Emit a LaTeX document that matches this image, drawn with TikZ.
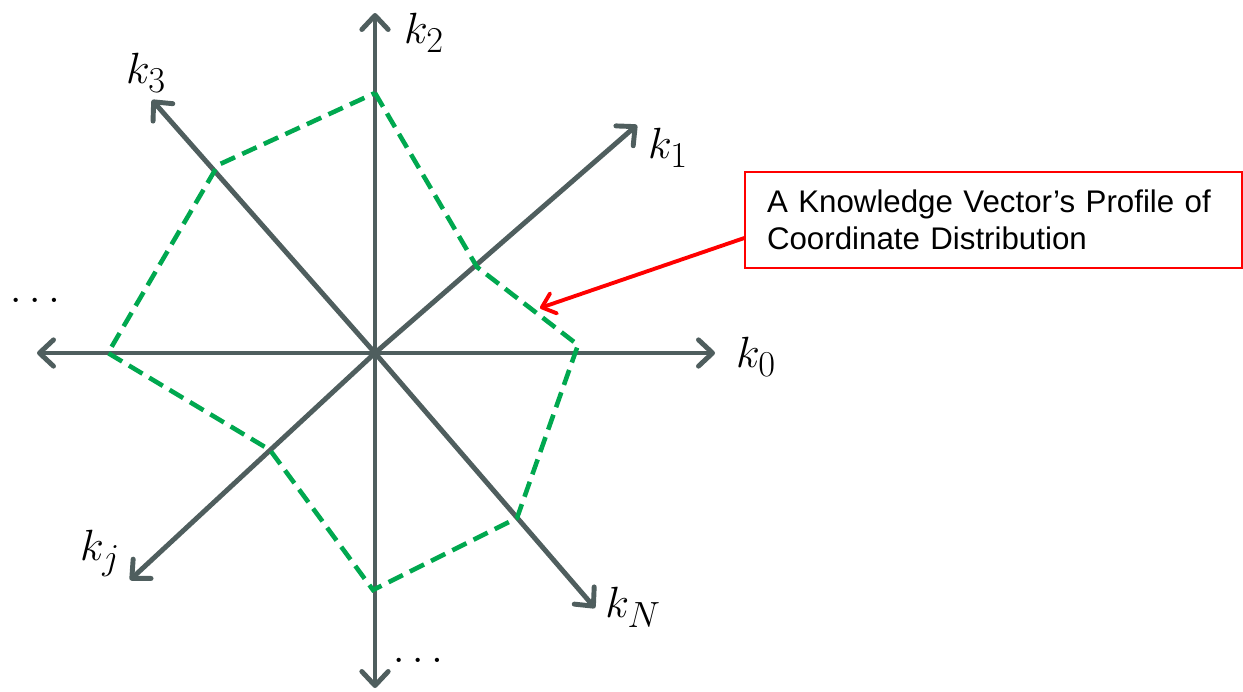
\documentclass[tikz,border=0pt]{standalone}
\usepackage{fontspec}
\setsansfont{Liberation Sans}
\usetikzlibrary{arrows.meta}
\definecolor{axisgray}{HTML}{4F5E5E}
\definecolor{profgreen}{HTML}{00A84F}
\definecolor{callred}{HTML}{FF0000}
\begin{document}
\begin{tikzpicture}[x=0.02cm,y=-0.02cm,
  axis/.style={draw=axisgray,line width=2.8pt,-{Straight Barb[length=8pt,width=15pt,line cap=round,line join=round]}},
  prof/.style={draw=profgreen,line width=2.6pt,dash pattern=on 9pt off 4.5pt},
  lab/.style={inner sep=0pt,font=\fontsize{28}{32}\selectfont},
  callout/.style={draw=callred,line width=0.8pt,fill=white,align=left,font=\sffamily\fontsize{17.8}{21}\selectfont,inner xsep=0pt,inner ysep=6pt,minimum width=497*0.02cm,minimum height=96*0.02cm,text width=453*0.02cm},
  callarrow/.style={draw=callred,line width=2.2pt,-{Straight Barb[length=7pt,width=12pt,line cap=round,line join=round]}}]
\useasboundingbox (0,0) rectangle (1243,691);
\coordinate (O) at (375,353);
\coordinate (e0) at (715,353);
\coordinate (e2) at (375,13);
\coordinate (eL) at (37,353);
\coordinate (eD) at (375,688);
\coordinate (e1) at (637,125);
\coordinate (e3) at (152,100);
\coordinate (ej) at (130,580);
\coordinate (eN) at (595,608);
\draw[axis] (O) -- (e0);
\draw[axis] (O) -- (e2);
\draw[axis] (O) -- (eL);
\draw[axis] (O) -- (eD);
\draw[axis] (O) -- (e1);
\draw[axis] (O) -- (e3);
\draw[axis] (O) -- (ej);
\draw[axis] (O) -- (eN);
\coordinate (p2) at (375,93);
\coordinate (p1) at (477,267);
\coordinate (p0) at (578,345);
\coordinate (pN) at (517,518);
\coordinate (pD) at (373,590);
\coordinate (pj) at (270,450);
\coordinate (pL) at (108,353);
\coordinate (p3) at (218,165);
\draw[prof] (p2) -- (p1) -- (p0) -- (pN) -- (pD) -- (pj) -- (pL) -- (p3) -- cycle;
\node[lab] (l2) at (424,33) {$k_2$};
\node[lab] (l3) at (146,73) {$k_3$};
\node[lab] (l1) at (668,148) {$k_1$};
\node[lab] (l0) at (756,357) {$k_0$};
\node[lab] (lj) at (100,553) {$k_j$};
\node[lab] (lN) at (633,607) {$k_N$};
\node[lab] (dl) at (35,300) {$\ldots$};
\node[lab] (dd) at (418,660) {$\ldots$};
\node[callout] (box) at (993.5,220) {A Knowledge Vector’s Profile of Coordinate Distribution};
\coordinate (tip) at (540,308);
\draw[callarrow] (box.west |- 0,238) -- (tip);
\end{tikzpicture}
\end{document}
